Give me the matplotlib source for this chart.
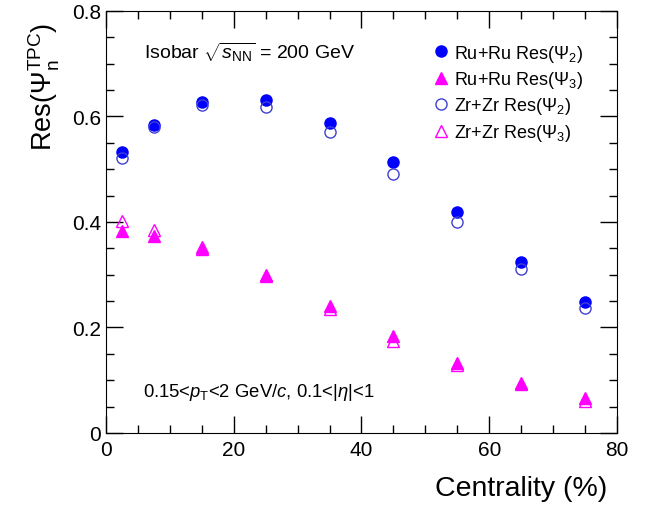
import numpy as np
import matplotlib
matplotlib.use("Agg")
import matplotlib.pyplot as plt
from matplotlib.ticker import MultipleLocator

plt.rcParams['font.family'] = ['Liberation Sans', 'DejaVu Sans']
plt.rcParams['mathtext.fontset'] = 'custom'
plt.rcParams['mathtext.rm'] = 'Liberation Sans'
plt.rcParams['mathtext.it'] = 'Liberation Sans:italic'
plt.rcParams['mathtext.bf'] = 'Liberation Sans:bold'

# centrality bin centres (%)
cent = [2.5, 7.5, 15, 25, 35, 45, 55, 65, 75]

ru_psi2 = [0.533, 0.584, 0.628, 0.631, 0.588, 0.514, 0.418, 0.324, 0.248]
zr_psi2 = [0.521, 0.581, 0.622, 0.618, 0.570, 0.491, 0.400, 0.311, 0.237]
ru_psi3 = [0.382, 0.373, 0.349, 0.300, 0.240, 0.184, 0.132, 0.094, 0.066]
zr_psi3 = [0.401, 0.384, 0.352, 0.297, 0.235, 0.175, 0.128, 0.092, 0.061]

fig = plt.figure(figsize=(6.49, 5.06), dpi=100)
ax = fig.add_axes([0.1633, 0.1423, 0.7874, 0.834])

blue = '#0000ff'
openblue = '#4040d0'
mag = '#ff00ff'

ax.plot(cent, ru_psi2, 'o', color=blue, ms=8, label=r'Ru+Ru Res($\Psi_2$)')
ax.plot(cent, ru_psi3, '^', color=mag, ms=8, label=r'Ru+Ru Res($\Psi_3$)')
ax.plot(cent, zr_psi2, 'o', mfc='none', mec=openblue, mew=1.0, ms=8, label=r'Zr+Zr Res($\Psi_2$)')
ax.plot(cent, zr_psi3, '^', mfc='none', mec=mag, mew=1.0, ms=8, label=r'Zr+Zr Res($\Psi_3$)')

ax.set_xlim(0, 80)
ax.set_ylim(0, 0.8)
ax.xaxis.set_major_locator(MultipleLocator(20))
ax.xaxis.set_minor_locator(MultipleLocator(5))
ax.yaxis.set_major_locator(MultipleLocator(0.2))
ax.yaxis.set_minor_locator(MultipleLocator(0.05))
ax.tick_params(which='both', direction='in', top=True, right=True, labelsize=15)
ax.tick_params(which='major', length=12, width=1)
ax.tick_params(which='minor', length=6, width=1)
ax.set_xticks([0, 20, 40, 60, 80])
ax.set_xticklabels(['0', '20', '40', '60', '80'])
ax.set_yticks([0, 0.2, 0.4, 0.6, 0.8])
ax.set_yticklabels(['0', '0.2', '0.4', '0.6', '0.8'])
ax.tick_params(axis='x', pad=5)

ax.set_xlabel('Centrality (%)', fontsize=20.5, ha='right')
ax.xaxis.set_label_coords(0.98, -0.1)
ax.set_ylabel(r'Res($\Psi_{\rm n}^{\rm TPC}$)', fontsize=19.5, ha='right')
ax.yaxis.set_label_coords(-0.087, 0.975)

ax.text(0.075, 0.905, r'Isobar $\sqrt{s_{\rm NN}}$ = 200 GeV', transform=ax.transAxes,
        fontsize=14, va='center')
ax.text(0.072, 0.098, r'0.15<$p_{\rm T}$<2 GeV/$c$, 0.1<|$\eta$|<1', transform=ax.transAxes,
        fontsize=13.3, va='center')

ax.legend(loc='upper left', bbox_to_anchor=(0.635, 0.925), frameon=False, fontsize=13,
          handletextpad=0.1, labelspacing=0.3, handlelength=1.2, borderaxespad=0,
          borderpad=0)

fig.savefig('out.png', dpi=100)
